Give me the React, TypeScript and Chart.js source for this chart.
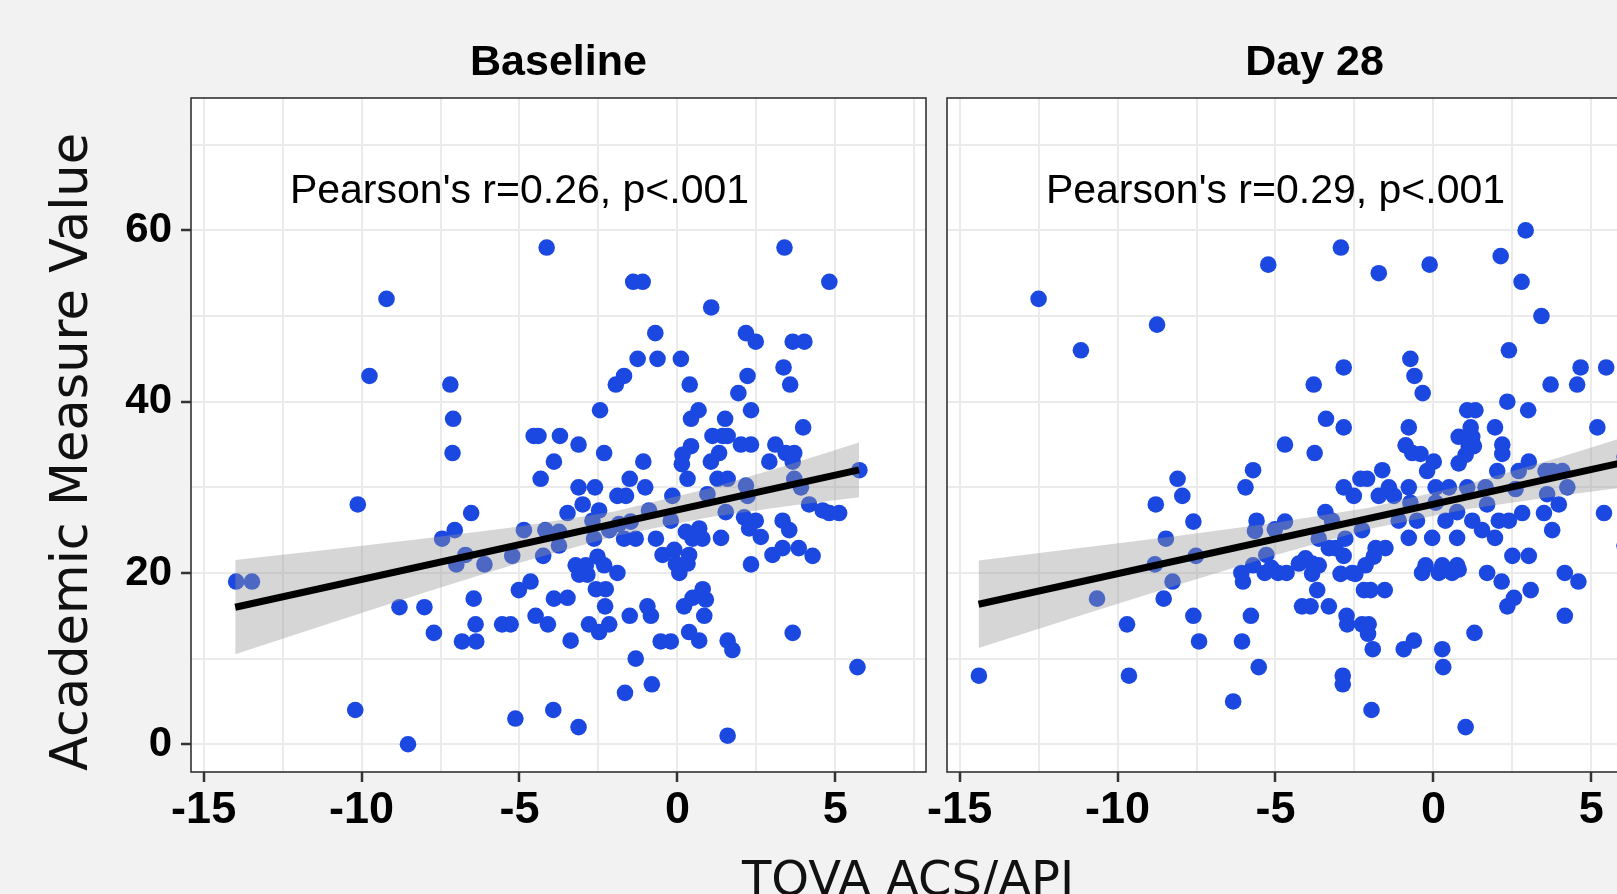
import React, { useEffect, useRef } from "react";
import { Chart, registerables } from "chart.js";

Chart.register(...registerables);

// ---- axes ----
const X_TICKS = [-15, -12.5, -10, -7.5, -5, -2.5, 0, 2.5, 5, 7.5];
const Y_TICKS = [0, 10, 20, 30, 40, 50, 60, 70];
const X_MIN = -15.4;
const X_MAX = 7.87;
const Y_MIN = -3.24;
const Y_MAX = 75.46;

const panelTitles = ["Baseline", "Day 28"];
const pearsonLabels = ["Pearson's r=0.26, p<.001", "Pearson's r=0.29, p<.001"];
const labelX = -5;
const labelY = 63.2;
const yTitle = "Academic Measure Value";
const xTitle = "TOVA ACS/API";

// ---- Baseline panel ----
const baselineX = [
  -4.14, -9.21, -9.75, -7.19, -7.1, -7.12, -4.55, -4.4, -3.72, -3.91, -4.33, -10.12, -6.53, -7.05, -7.45,
  -4.86, -4.18, -3.75, -6.71, -7.0, -6.11, -5.23, -4.25, -3.75, -13.97, -13.47, -4.65, -5.02, -3.91, -6.45,
  -8.8, -8.01, -6.39, -7.71, -6.82, -6.37, -5.55, -5.28, -4.49, -4.1, -10.2, -5.13, -3.93, -8.53,
  3.39, -1.4, -1.1, 4.81, 1.07, -0.7, 2.17, 2.48, 3.65, 4.02, -1.26, -0.63, 0.11, -1.95, -1.69, 0.39,
  2.22, 1.93, 3.36, 3.57, -2.45, 2.33, 3.98, 0.67, 0.43, 1.51, -3.13, -2.32, -1.08, 0.16, 0.14, 0.43,
  1.11, 1.43, 1.59, 1.32, 1.06, 2.01, 2.33, 3.1, 2.91, 3.43, 3.7, 3.65, -1.51, -1.02, 0.32, 1.27, 1.59,
  2.17, 2.22, 3.7, 3.91, -3.13, -2.61, -1.9, -1.63, -3.0, -3.48, -2.48, -0.16, -0.9, 0.95, 1.53, 4.17,
  4.6, 5.12, 4.81, 5.76, 5.7, 3.65, 2.11, 2.48, 2.27, 2.64, 3.01, 3.33, 3.84, 4.28, 3.33, 3.54, 2.33,
  1.38, -0.68, -0.47, -0.1, -0.05, 0.06, 0.37, 0.48, 0.79, 0.27, 0.32, -0.21, -1.69, -1.32, -1.48,
  -2.16, -1.85, -2.64, -2.69, -3.22, -2.9, -3.11, -2.85, -2.53, -2.32, -1.9, -3.48, -2.58, -2.27, -2.29,
  -2.8, -2.48, -2.16, -3.38, -1.51, -0.95, -0.84, -1.32, -1.66, -0.81, -3.13, 1.59, -0.53, -0.21, 0.37,
  0.69, 1.59, 1.74, 0.21, 0.48, 0.8, 0.9, 0.85, 0.69,
];
const baselineY = [
  58, 52, 43, 42, 38, 34, 36, 36, 36, 33, 31, 28, 27, 25, 24,
  25, 25, 24.8, 22.1, 21, 21, 22, 22, 23.2, 19, 19, 19, 18, 17, 17,
  16, 16, 14, 13, 12, 12, 14, 14, 15, 14, 4, 3, 4, 0,
  58, 54, 54, 54, 51, 48, 48, 47, 47, 47, 45, 45, 45, 42, 43, 42,
  43, 41, 44, 42, 39, 39, 37, 39, 38, 38, 35, 34, 33, 33.8, 32.7, 34.8,
  36, 36, 36, 34, 33, 35, 35, 35, 33, 34, 34, 33, 31, 30, 31, 31, 31,
  30.2, 29, 31, 30, 30, 30, 29, 29, 28, 27, 27.3, 29, 27.3, 29.2, 27.1, 28,
  27.3, 27, 27, 32, 9, 13, 26.5, 26.1, 25.2, 24.2, 22.1, 22.9, 22.9, 22, 26.1, 25, 21,
  24.1, 24, 22.1, 22.7, 21.1, 20, 22.1, 24, 24, 24.8, 21.1, 26.1, 24, 24, 26,
  25, 25.7, 24, 26.1, 20.9, 20.9, 19.8, 19.8, 21.9, 20.9, 20, 17.1, 18.1, 18.1, 16.1,
  14, 13.1, 14, 12.1, 15, 16.1, 15, 10, 6, 7, 2, 1, 12, 12, 13.1,
  12.1, 12.1, 11, 16.1, 17.1, 18.1, 16.9, 15, 25.2,
];
const baselineFitX = [-14, 5.75];
const baselineFitY = [16.0, 32.04];
const baselineBandX = [-14, -11, -8, -5, -2, 1, 3.5, 5.75];
const baselineBandHi = [21.5, 22.75, 24.03, 25.42, 27.18, 29.85, 32.6, 35.24];
const baselineBandLo = [10.5, 14.13, 17.71, 21.2, 24.3, 26.51, 27.82, 28.84];

// ---- Day 28 panel ----
const day28X = [
  -5.23, -12.5, -8.75, -11.16, -4.7, -5.71, -5.95, -8.1, -7.95, -8.79, -7.6, -8.47, -5.6, -5.65, -5.02,
  -4.7, -8.82, -7.52, -8.26, -10.65, -8.54, -9.7, -7.6, -7.42, -5.78, -6.06, -5.53, -6.34, -14.39, -9.64,
  -6.08, -6.03, -5.71, -5.29, -5.34, -4.92, -5.13, -4.65,
  2.92, -2.93, 2.13, -1.73, -0.12, 2.79, 3.42, 2.39, -0.73, -0.6, -0.34, -2.84, -3.79, 4.66, 5.47, 3.71,
  4.55, 2.34, 3.0, 1.07, 1.33, -3.4, -2.84, -0.78, 1.95, 5.19, -3.76, 0.8, 1.18, 1.23, 1.12, 1.28, 1.02,
  0.8, 2.18, 2.18, -0.88, -0.67, -0.41, 0.01, -0.2, 3.02, -1.62, -2.31, -2.1, -2.84, -2.52, -1.73, -1.41,
  -1.25, -0.78, 0.07, 0.49, 1.07, 1.65, 1.7, -0.73, -1.1, -0.52, 0.07, 0.38, 0.75, 2.02, 2.6, 2.7, 3.55,
  3.76, 4.08, 3.6, 4.24, 3.97, 3.5, 3.76, 2.81, 1.23, 1.54, 1.95, 2.07, 2.39, 5.4, -0.78, -0.04, 0.75,
  2.5, 3.02, -0.36, -0.25, 0.17, 0.38, 0.59, 0.8, 0.28, 0.75, 1.7, 2.16, 3.08, 2.55, 2.34, 4.16, 4.59,
  4.16, 1.3, 0.28, 0.31, 1.02, -3.42, -3.21, -3.63, -3.31, -3.1, -2.79, -2.84, -2.26, -1.83, -1.52, -1.89,
  -2.15, -2.47, -2.94, -2.57, -4.26, -4.05, -3.84, -3.63, -3.84, -3.68, -4.16, -3.89, -3.31, -2.2, -1.99,
  -1.54, -2.75, -2.73, -2.26, -2.05, -2.07, -1.92, -0.94, -0.62, -2.87, -2.87, -1.96, 6.05, 6.05,
];
const day28Y = [
  56, 52, 49, 46, 35, 32, 30, 31, 29, 28, 26, 24, 26.1, 24.9, 25.1,
  26, 21, 22, 19, 17, 17, 14, 15, 12, 15, 12, 9, 5, 8, 8,
  20, 19, 20.9, 22.1, 20, 20, 20.6, 20,
  60, 58, 57, 55, 56, 54, 50, 46, 45, 43, 41, 44, 42, 44, 44, 42,
  42, 40, 39, 39, 39, 38, 37, 37, 37, 37, 34, 35.9, 37, 35.9, 34.8, 34.8, 33.8,
  32.8, 35, 33.9, 34.9, 34, 33.9, 33, 31.9, 33, 32, 31, 31, 30, 29, 29, 30,
  29, 30, 30, 30, 30, 30, 28, 28.2, 26.1, 26.1, 28.2, 26.1, 27.1, 31.9, 29.8, 31.9, 31.9,
  31.9, 31.9, 29.2, 30, 28, 27, 25, 27, 26.1, 25, 24.1, 26.1, 26.1, 27, 24.1, 24.1, 24.1,
  22, 22, 20, 20.9, 20, 20.4, 20, 20.4, 20.9, 20.9, 20, 19, 18, 17.1, 16.1, 20, 19,
  15, 13, 11.1, 9, 2, 27.1, 26.1, 24, 22.9, 22.9, 24, 22, 25, 22.9, 22.9, 21.9,
  20.9, 19.9, 19.9, 20, 21.1, 21.7, 21.1, 20.9, 19.9, 18, 16.1, 16.1, 16.1, 18, 18,
  18, 15, 14, 14, 14, 12.9, 11.1, 11.1, 12.1, 8, 7, 4, 33.6, 23.2,
];
const day28FitX = [-14.4, 6.6];
const day28FitY = [16.35, 33.38];
const day28BandX = [-14.4, -11, -8, -5, -2, 1, 4, 6.6];
const day28BandHi = [21.45, 22.99, 24.38, 25.85, 27.65, 30.27, 33.52, 36.49];
const day28BandLo = [11.25, 15.23, 18.7, 22.09, 25.15, 27.41, 29.02, 30.27];

// ---- styling ----
const POINT_COLOR = "#1b48e0";
const BAND_COLOR = "rgba(153,153,153,0.4)";
const GRID_COLOR = "#ebebeb";
const TICK_FONT = '"Liberation Sans", Arial, sans-serif';
const TITLE_FONT = '"DejaVu Sans", sans-serif';

const zip = (xs: number[], ys: number[]) => xs.map((x, i) => ({ x, y: ys[i] }));

type PanelSpec = {
  title: string;
  label: string;
  px: number[];
  py: number[];
  fitX: number[];
  fitY: number[];
  bandX: number[];
  bandHi: number[];
  bandLo: number[];
  isLeft: boolean;
  padRight: number;
  yWidth: number;
};

function makeChart(canvas: HTMLCanvasElement, p: PanelSpec) {
  const deco = {
    id: "deco" + (p.isLeft ? "L" : "R"),
    beforeDraw(chart: any) {
      const { ctx, chartArea } = chart;
      ctx.save();
      ctx.fillStyle = "#ffffff";
      ctx.fillRect(chartArea.left, chartArea.top, chartArea.right - chartArea.left, chartArea.bottom - chartArea.top);
      ctx.restore();
    },
    afterDatasetsDraw(chart: any) {
      const { ctx, chartArea, scales } = chart;
      ctx.save();
      ctx.strokeStyle = "#333333";
      ctx.lineWidth = 1.6;
      ctx.strokeRect(chartArea.left, chartArea.top, chartArea.right - chartArea.left, chartArea.bottom - chartArea.top);
      ctx.fillStyle = "#000";
      ctx.font = `41px ${TICK_FONT}`;
      ctx.textAlign = "center";
      ctx.textBaseline = "alphabetic";
      ctx.fillText(p.label, scales.x.getPixelForValue(labelX), scales.y.getPixelForValue(labelY));
      ctx.restore();
    },
    afterDraw(chart: any) {
      const { ctx, chartArea } = chart;
      ctx.save();
      ctx.fillStyle = "#000";
      ctx.font = `bold 43px ${TICK_FONT}`;
      ctx.textAlign = "center";
      ctx.textBaseline = "alphabetic";
      ctx.fillText(p.title, (chartArea.left + chartArea.right) / 2, 75);
      if (p.isLeft) {
        ctx.fillStyle = "#111";
        ctx.font = `48px ${TITLE_FONT}`;
        ctx.fillText(xTitle, 908, 895);
        ctx.translate(87, 452);
        ctx.rotate(-Math.PI / 2);
        ctx.font = `51px ${TITLE_FONT}`;
        ctx.fillText(yTitle, 0, 0);
      }
      ctx.restore();
    },
  };

  return new Chart(canvas, {
    type: "scatter",
    data: {
      datasets: [
        {
          type: "scatter",
          data: zip(p.px, p.py),
          backgroundColor: POINT_COLOR,
          borderWidth: 0,
          pointRadius: 8.3,
          order: 3,
        } as any,
        {
          type: "line",
          data: zip(p.bandX, p.bandHi),
          borderWidth: 0,
          pointRadius: 0,
          fill: false,
          tension: 0,
          order: 2,
        } as any,
        {
          type: "line",
          data: zip(p.bandX, p.bandLo),
          borderWidth: 0,
          pointRadius: 0,
          fill: "-1",
          backgroundColor: BAND_COLOR,
          tension: 0,
          order: 2,
        } as any,
        {
          type: "line",
          data: zip(p.fitX, p.fitY),
          borderColor: "#000",
          borderWidth: 7,
          pointRadius: 0,
          fill: false,
          borderCapStyle: "butt",
          order: 1,
        } as any,
      ],
    },
    plugins: [deco],
    options: {
      responsive: false,
      animation: false,
      devicePixelRatio: 1,
      events: [],
      layout: { padding: { left: 0, top: 98, right: p.padRight, bottom: 0 } },
      plugins: { legend: { display: false }, tooltip: { enabled: false }, title: { display: false } },
      scales: {
        x: {
          type: "linear",
          bounds: "data",
          min: X_MIN,
          max: X_MAX,
          afterBuildTicks: (s: any) => {
            s.ticks = X_TICKS.map((v) => ({ value: v }));
          },
          afterFit: (s: any) => {
            s.height = 122;
          },
          ticks: {
            autoSkip: false,
            maxRotation: 0,
            padding: 2,
            color: "#000",
            font: { family: TICK_FONT, weight: "bold", size: 45 },
            callback: (v: any) => (Number(v) % 5 === 0 ? String(v) : ""),
          },
          grid: {
            color: GRID_COLOR,
            lineWidth: 2,
            tickLength: 10,
            tickWidth: 2.5,
            tickColor: (c: any) => (c.tick && c.tick.value % 5 === 0 ? "#333" : "rgba(0,0,0,0)"),
          },
          border: { display: false },
        },
        y: {
          type: "linear",
          bounds: "data",
          min: Y_MIN,
          max: Y_MAX,
          afterBuildTicks: (s: any) => {
            s.ticks = Y_TICKS.map((v) => ({ value: v }));
          },
          afterFit: (s: any) => {
            s.width = p.yWidth;
          },
          ticks: {
            display: p.isLeft,
            autoSkip: false,
            padding: 9,
            color: "#000",
            font: { family: TICK_FONT, weight: "bold", size: 42 },
            callback: (v: any) => (Number(v) % 20 === 0 ? String(v) : ""),
          },
          grid: {
            color: GRID_COLOR,
            lineWidth: 2,
            drawTicks: p.isLeft,
            tickLength: 10,
            tickWidth: 2.5,
            tickColor: (c: any) => (c.tick && c.tick.value % 20 === 0 ? "#333" : "rgba(0,0,0,0)"),
          },
          border: { display: false },
        },
      },
    } as any,
  });
}

export default function App() {
  const leftRef = useRef<HTMLCanvasElement>(null);
  const rightRef = useRef<HTMLCanvasElement>(null);

  useEffect(() => {
    const left = makeChart(leftRef.current!, {
      title: panelTitles[0],
      label: pearsonLabels[0],
      px: baselineX,
      py: baselineY,
      fitX: baselineFitX,
      fitY: baselineFitY,
      bandX: baselineBandX,
      bandHi: baselineBandHi,
      bandLo: baselineBandLo,
      isLeft: true,
      padRight: 1617 - 926,
      yWidth: 191,
    });
    const right = makeChart(rightRef.current!, {
      title: panelTitles[1],
      label: pearsonLabels[1],
      px: day28X,
      py: day28Y,
      fitX: day28FitX,
      fitY: day28FitY,
      bandX: day28BandX,
      bandHi: day28BandHi,
      bandLo: day28BandLo,
      isLeft: false,
      padRight: 820 - 802,
      yWidth: 67,
    });
    return () => {
      left.destroy();
      right.destroy();
    };
  }, []);

  return (
    <div
      style={{
        position: "absolute",
        left: 0,
        top: 0,
        width: 1617,
        height: 894,
        overflow: "hidden",
        background: "#f2f2f2",
      }}
    >
      <canvas
        ref={leftRef}
        width={1617}
        height={894}
        style={{ position: "absolute", left: 0, top: 0, width: 1617, height: 894 }}
      />
      <canvas
        ref={rightRef}
        width={820}
        height={894}
        style={{ position: "absolute", left: 880, top: 0, width: 820, height: 894 }}
      />
    </div>
  );
}
